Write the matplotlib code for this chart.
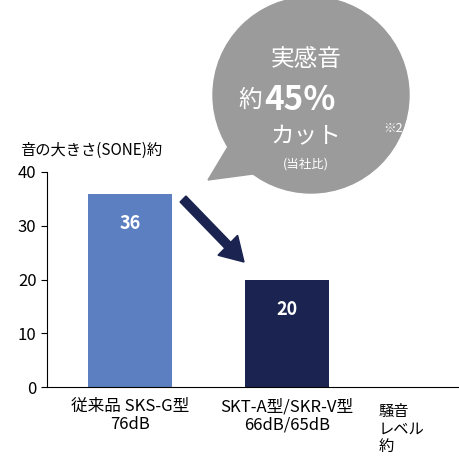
import matplotlib.pyplot as plt
from matplotlib.patches import Ellipse, Polygon, FancyArrow

plt.rcParams['font.family'] = ['Noto Sans CJK JP', 'DejaVu Sans']

categories = ['従来品 SKS-G型\n76dB', 'SKT-A型/SKR-V型\n66dB/65dB']
values = [36, 20]
colors = ['#5b7fc0', '#1b2350']
yticks = [0, 10, 20, 30, 40]

W, H = 460, 471
fig = plt.figure(figsize=(W / 100, H / 100), dpi=100)
ax = fig.add_axes([47 / W, 84 / H, 413 / W, 215 / H])

bars = ax.bar([0, 1], values, width=0.535, color=colors)
for b, v in zip(bars, values):
    ax.text(b.get_x() + b.get_width() / 2, v - 5.5, str(v), ha='center', va='center',
            color='white', fontsize=13, fontweight='bold')

ax.set_xlim(-0.529, 2.10)
ax.set_ylim(0, 40)
ax.set_yticks(yticks)
ax.set_xticks([0, 1])
ax.set_xticklabels(categories, fontsize=12, linespacing=1.1)
ax.tick_params(axis='y', labelsize=12, length=4)
ax.tick_params(axis='x', length=0, pad=8)
ax.spines['top'].set_visible(False)
ax.spines['right'].set_visible(False)
ax.text(1.58, -3.0, '騒音\nレベル\n約', fontsize=11, va='top', ha='left', linespacing=1.05)
fig.text(20 / W, 1 - 150 / H, '音の大きさ(SONE)約', fontsize=11, va='center')

# speech bubble
fx = lambda x: x / W
fy = lambda y: 1 - y / H
fig.add_artist(Polygon([(fx(232), fy(140)), (fx(268), fy(172)), (fx(208), fy(180))],
                       closed=True, transform=fig.transFigure, color='#9b9b9b'))
fig.add_artist(Ellipse((fx(311), fy(95)), 196 / W, 196 / H, transform=fig.transFigure,
                       color='#9b9b9b'))
fig.text(fx(306), fy(60), '実感音', color='white', fontsize=17, ha='center', va='center')
fig.text(fx(262), fy(100), '約', color='white', fontsize=17, ha='right', va='center')
fig.text(fx(264), fy(100), '45%', color='white', fontsize=24, fontweight='bold', ha='left', va='center')
fig.text(fx(306), fy(137), 'カット', color='white', fontsize=17, ha='center', va='center')
fig.text(fx(306), fy(164), '(当社比)', color='white', fontsize=9, ha='center', va='center')
fig.text(fx(393), fy(128), '※2', color='white', fontsize=9, ha='center', va='center')

# arrow
fig.add_artist(FancyArrow(fx(183), fy(199), fx(244) - fx(183), fy(262) - fy(199),
                          width=0.018, head_width=0.06, head_length=0.05,
                          length_includes_head=True, transform=fig.transFigure,
                          color='#1b2350'))

fig.savefig('out.png', dpi=100)
